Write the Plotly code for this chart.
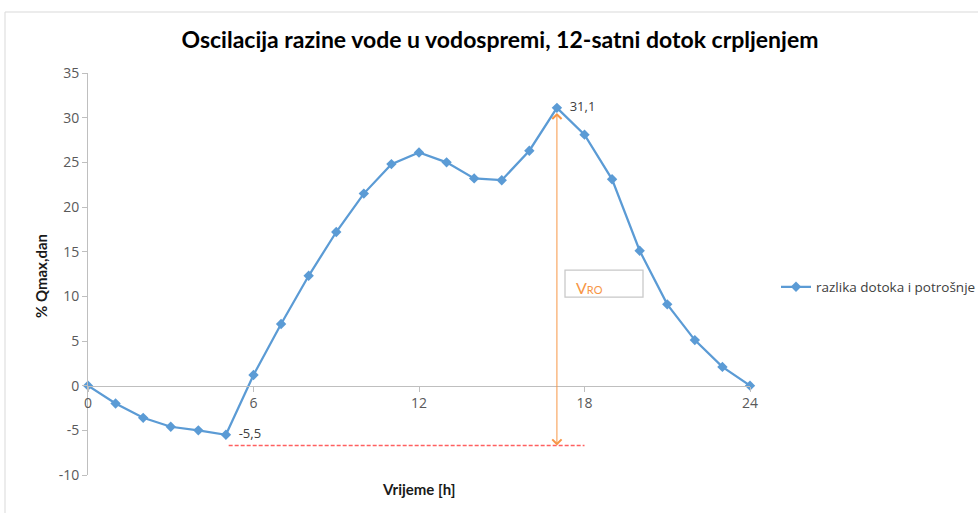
import plotly.graph_objects as go

# ---- data ----
hours = list(range(0, 25))
razlika = [0, -2.0, -3.6, -4.6, -5.0, -5.5, 1.2, 6.9, 12.3, 17.2, 21.5, 24.8, 26.1,
           25.0, 23.2, 23.0, 26.3, 31.1, 28.1, 23.1, 15.1, 9.1, 5.1, 2.1, 0]
x_ticks = [0, 6, 12, 18, 24]
y_ticks = [-10, -5, 0, 5, 10, 15, 20, 25, 30, 35]
series_name = "razlika dotoka i potrošnje"
title_text = "Oscilacija razine vode u vodospremi, 12-satni dotok crpljenjem"
x_title = "Vrijeme [h]"
y_title = "% Qmax,dan"
vro_level = -6.7          # level of the hand-drawn dashed line
vro_line_x = [5.1, 18.0]  # extent of the dashed line

vmax = max(razlika); vmin = min(razlika)
imax = razlika.index(vmax)
labels = ["  " + f"{v:.1f}".replace(".", ",") if (v == vmax or v == vmin) else "" for v in razlika]

# ---- geometry helpers (pixels) ----
W, H = 978, 513
L, R, T, B = 88, 750, 73, 475
def px(xp): return (xp - L) / (R - L)
def py(yp): return (B - yp) / (B - T)

blue = "#5B9BD5"
orange = "#F79646"
grey_text = "#595959"
axis_grey = "#BFBFBF"

fig = go.Figure()
fig.add_trace(go.Scatter(
    x=hours, y=razlika, name=series_name,
    mode="lines+markers+text",
    line=dict(color=blue, width=2.25),
    marker=dict(symbol="diamond", size=8, color=blue),
    text=labels, textposition="middle right",
    textfont=dict(family="Open Sans", size=13, color="#404040"),
    cliponaxis=False,
))

y_lo, y_hi = y_ticks[0], y_ticks[-1]
fig.update_layout(
    width=W, height=H,
    margin=dict(l=L, r=W - R, t=T, b=H - B, autoexpand=False),
    paper_bgcolor="white", plot_bgcolor="white",
    font=dict(family="Open Sans", size=13, color=grey_text),
    title=dict(text=title_text, x=500 / W, xanchor="center", xref="container",
               y=1 - 40 / H, yanchor="middle", yref="container",
               font=dict(family="Lato", size=23, color="#000000", weight="bold")),
    xaxis=dict(range=[0, 24], tickvals=x_ticks, ticktext=[str(t) for t in x_ticks],
               showgrid=False, zeroline=False, showline=True, linecolor=axis_grey,
               linewidth=1, ticks="outside", ticklen=5, tickcolor=axis_grey,
               anchor="free", position=(0 - y_lo) / (y_hi - y_lo),
               tickfont=dict(size=14, color=grey_text)),
    yaxis=dict(range=[y_lo, y_hi], tickvals=y_ticks, ticktext=[str(t) for t in y_ticks],
               showgrid=False, zeroline=False,
               showline=True, linecolor=axis_grey, linewidth=1, ticks="outside",
               ticklen=5, tickcolor=axis_grey, tickfont=dict(size=14, color=grey_text)),
    showlegend=True,
    legend=dict(x=px(776), y=py(287), xanchor="left", yanchor="middle",
                font=dict(size=13.5, color="#404040"), bgcolor="rgba(0,0,0,0)"),
)

shapes = [
    # outer chart frame
    dict(type="rect", xref="paper", yref="paper", x0=px(5), x1=px(1200), y0=py(12), y1=py(700),
         line=dict(color="#D9D9D9", width=1), layer="below"),
    # dashed red line
    dict(type="line", xref="x", yref="y", x0=vro_line_x[0], x1=vro_line_x[1],
         y0=vro_level, y1=vro_level, line=dict(color="#FF6060", width=1.5, dash="4px,2px")),
    # V_RO box
    dict(type="rect", xref="paper", yref="paper", x0=px(565), x1=px(643), y0=py(297), y1=py(270),
         line=dict(color="#C8C8C8", width=1.25), fillcolor="white"),
]
fig.update_layout(shapes=shapes)

annotations = [
    dict(x=hours[imax], y=vro_level, ax=hours[imax], ay=vmax - 0.4, xref="x", yref="y",
         axref="x", ayref="y", showarrow=True, arrowhead=4, startarrowhead=4,
         arrowside="end+start", arrowsize=1.8, arrowwidth=1.0, arrowcolor=orange, text=""),
    dict(x=px(574), y=py(287), xref="paper", yref="paper", xanchor="left", yanchor="middle",
         text="V<span style='font-size:11px'>RO</span>", showarrow=False,
         font=dict(family="Lato", size=16, color=orange)),
    dict(x=px(418), y=py(489), xref="paper", yref="paper", xanchor="center", yanchor="middle",
         text=f"<b>{x_title}</b>", showarrow=False,
         font=dict(family="Lato", size=15, color="#1a1a1a")),
    dict(x=px(41), y=py(276), xref="paper", yref="paper", xanchor="center", yanchor="middle",
         text=f"<b>{y_title}</b>", textangle=-90, showarrow=False,
         font=dict(family="Lato", size=15, color="#1a1a1a")),
]
fig.update_layout(annotations=annotations)

fig.write_html("out.html", config={"displayModeBar": False},
               post_script="document.body.style.margin='0px';")
